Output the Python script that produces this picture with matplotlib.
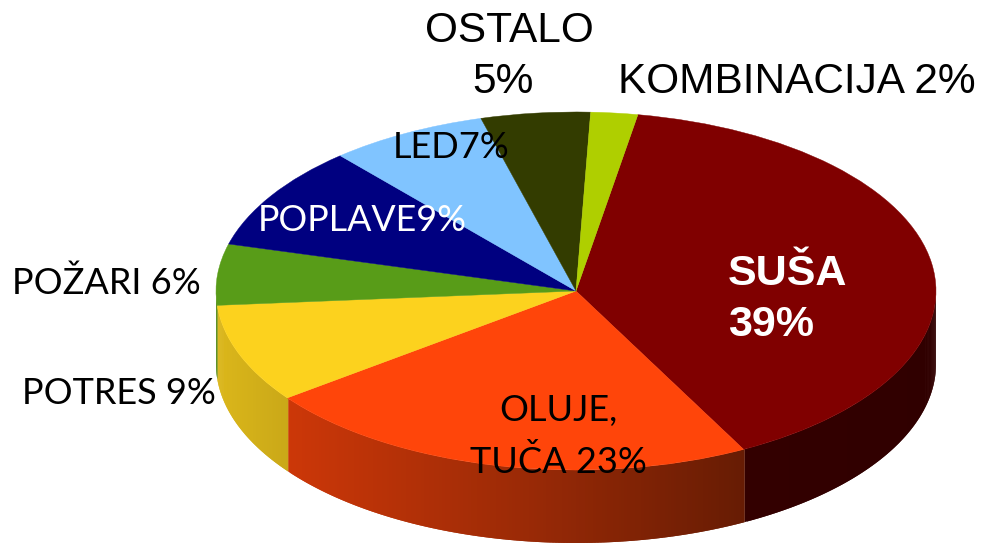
import numpy as np
import matplotlib
matplotlib.use("Agg")
import matplotlib.pyplot as plt

# Podaci ocitani sa slike (udio u krugu, %)
categories = ['SUŠA', 'OLUJE, TUČA', 'POTRES', 'POŽARI', 'POPLAVE', 'LED', 'OSTALO', 'KOMBINACIJA']
shares = [39.5, 22.5, 8.9, 5.5, 9.4, 7.1, 4.9, 2.1]
colors = ['#800000', '#FF450A', '#FCD21E', '#589C18', '#000080', '#80C4FF', '#333C00', '#AFCF00']

W, H = 981, 543
CX, CY = 576, 291  # centar elipse u pikselima
RX, RY = 360, 179
DEPTH = 73 / RY
START = 80.1

# Zatamnjenje boka ovisno o x
shade_x = [-1.0, -0.8, -0.13, 0.47, 1.0]
shade_k = [0.87, 0.80, 0.60, 0.40, 0.375]

fig = plt.figure(figsize=(W / 100, H / 100), dpi=100)
ax = fig.add_axes([0, 0, 1, 1])

# Bok kolaca - trake s gradijentom, svaka prekriva rub prethodne da nema savova
angle = START
for share, color in zip(shares, colors):
    end = angle - share * 3.6
    thetas = np.radians(np.linspace(angle, end, int(share * 8) + 2))
    thetas = thetas[np.sin(thetas) <= 0.001]  # samo prednja strana
    rgb = np.array(matplotlib.colors.to_rgb(color))
    for i in range(len(thetas) - 1):
        seg = thetas[max(i - 1, 0):i + 2]
        xs, ys = np.cos(seg), np.sin(seg)
        k = np.interp(np.cos(thetas[i:i + 2]).mean(), shade_x, shade_k)
        ax.fill(np.r_[xs, xs[::-1]], np.r_[ys, ys[::-1] - DEPTH], color=rgb * k, lw=0, zorder=1)
    angle = end

# Gornja ploha
wedges, _ = ax.pie(shares, colors=colors, startangle=START, counterclock=False, radius=1,
                   wedgeprops={'linewidth': 0.3, 'zorder': 2})
for w, c in zip(wedges, colors):
    w.set_edgecolor(c)

ax.set_aspect('auto')
ax.set_xlim(-CX / RX, (W - CX) / RX)
ax.set_ylim((CY - H) / RY, CY / RY)
ax.axis('off')


def label(x, y, s, font, size, ha='left', color='black', weight='normal'):
    fig.text(x / W, 1 - y / H, s, family=font, fontsize=size, ha=ha, va='center',
             color=color, fontweight=weight)


arial = 'Liberation Sans'
calibri = 'Lato'
label(509, 31, 'OSTALO', arial, 30.5, ha='center')
label(503, 82, '5%', arial, 30.5, ha='center')
label(618, 82, 'KOMBINACIJA 2%', arial, 30.5)
label(728, 274, 'SUŠA', arial, 31, color='white', weight='bold')
label(728, 325, '39%', arial, 31, color='white', weight='bold')
label(558, 411, 'OLUJE,', calibri, 26, ha='center')
label(558, 462, 'TUČA 23%', calibri, 26, ha='center')
label(12, 283, 'POŽARI 6%', calibri, 26)
label(22, 394, 'POTRES 9%', calibri, 26)
label(258, 220, 'POPLAVE9%', calibri, 25.8, color='white')
label(393, 147, 'LED7%', calibri, 26)

fig.savefig('out.png', dpi=100)
